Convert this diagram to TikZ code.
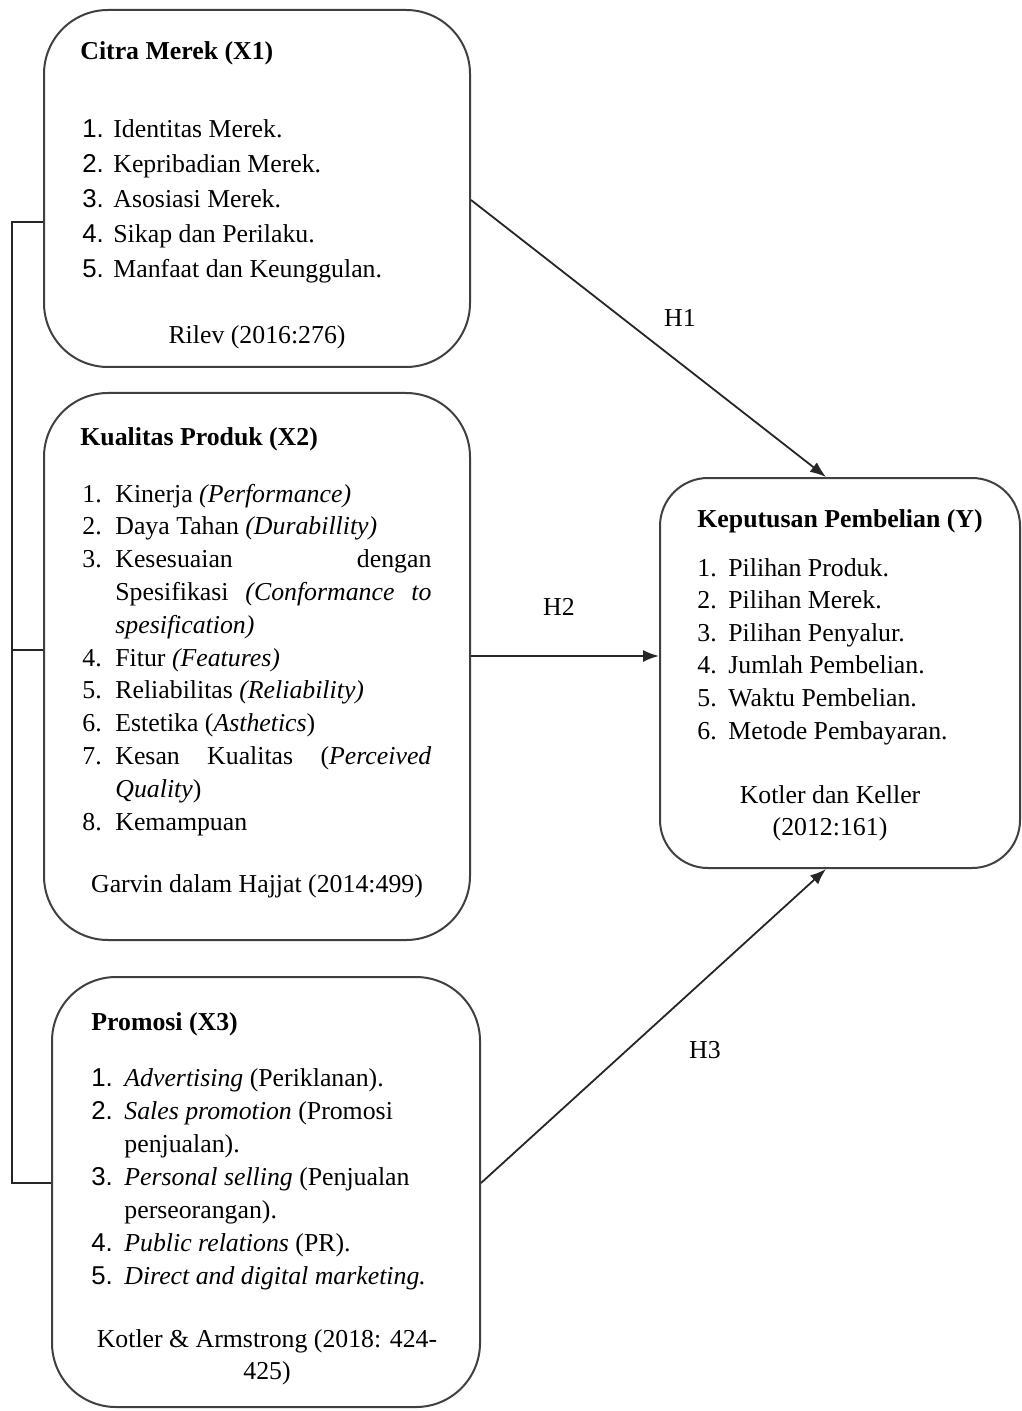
\documentclass[tikz,border=0pt]{standalone}
\usepackage{fontspec}
\setmainfont{Liberation Serif}
\newfontfamily\numfont{Liberation Sans}
\usetikzlibrary{positioning, arrows.meta}

\tikzset{
  box/.style={draw=black!75, line width=1pt, rounded corners=32pt, inner sep=0pt},
  txt/.style={inner sep=0pt, anchor=base west, font=\fontsize{12.9}{16.5}\selectfont},
  lbl/.style={inner sep=0pt, font=\fontsize{12.9}{16}\selectfont},
  link/.style={draw=black!85, line width=0.9pt},
}
\newcommand{\nb}[1]{\makebox[16.5pt][l]{#1}}
\newcommand{\ns}[1]{\makebox[15.5pt][l]{\numfont #1}}

\begin{document}
\begin{tikzpicture}[x=0.5pt, y=-0.5pt, >={Latex[length=8pt, width=6pt]}]
		
		\useasboundingbox (0,0) rectangle (1021,1411);
		
		% boxes
		\node[box, minimum width=213pt, minimum height=178.5pt] (x1) at (257,188.5) {};
		\node[box, minimum width=213pt, minimum height=273.5pt] (x2) at (257,666.5) {};
		\node[box, minimum width=214pt, minimum height=215pt] (x3) at (266,1192) {};
		\node[box, minimum width=180pt, minimum height=195pt, rounded corners=24pt] (y) at (840,673) {};
		
		% citra merek
		\node[txt] (x1head) at (80,60) {\textbf{Citra Merek (X1)}};
		\node[txt, font=\fontsize{12.9}{17.5}\selectfont] (x1list) at (82,138) {\begin{tabular}[t]{@{}l@{}}
		\ns{1.}Identitas Merek.\\
		\ns{2.}Kepribadian Merek.\\
		\ns{3.}Asosiasi Merek.\\
		\ns{4.}Sikap dan Perilaku.\\
		\ns{5.}Manfaat dan Keunggulan.
		\end{tabular}};
		\node[lbl] (x1src) at (257,337) {Rilev (2016:276)};
		
		% kualitas produk
		\node[txt] (x2head) at (80,445) {\textbf{Kualitas Produk (X2)}};
		\node[txt, font=\fontsize{12.9}{16.4}\selectfont] (x2list) at (82,502) {\begin{tabular}[t]{@{}l@{}}
		\nb{1.}Kinerja \textit{(Performance)}\\
		\nb{2.}Daya Tahan \textit{(Durabillity)}\\
		\nb{3.}\makebox[158pt][s]{Kesesuaian dengan}\\
		\nb{}\makebox[158pt][s]{Spesifikasi \textit{(Conformance to}}\\
		\nb{}\textit{spesification)}\\
		\nb{4.}Fitur \textit{(Features)}\\
		\nb{5.}Reliabilitas \textit{(Reliability)}\\
		\nb{6.}Estetika (\textit{Asthetics})\\
		\nb{7.}\makebox[158pt][s]{Kesan Kualitas (\textit{Perceived}}\\
		\nb{}\textit{Quality})\\
		\nb{8.}Kemampuan
		\end{tabular}};
		\node[lbl] (x2src) at (257,886) {Garvin dalam Hajjat (2014:499)};
		
		% promosi
		\node[txt] (x3head) at (91,1030) {\textbf{Promosi (X3)}};
		\node[txt, font=\fontsize{12.9}{16.5}\selectfont] (x3list) at (91,1086) {\begin{tabular}[t]{@{}l@{}}
		\makebox[16.5pt][l]{\numfont 1.}\textit{Advertising} (Periklanan).\\
		\makebox[16.5pt][l]{\numfont 2.}\textit{Sales promotion} (Promosi\\
		\makebox[16.5pt][l]{}penjualan).\\
		\makebox[16.5pt][l]{\numfont 3.}\textit{Personal selling} (Penjualan\\
		\makebox[16.5pt][l]{}perseorangan).\\
		\makebox[16.5pt][l]{\numfont 4.}\textit{Public relations} (PR).\\
		\makebox[16.5pt][l]{\numfont 5.}\textit{Direct and digital marketing.}
		\end{tabular}};
		\node[lbl, align=center] (x3src) at (267,1357) {Kotler \& Armstrong (2018: 424-\\425)};
		
		% keputusan pembelian
		\node[txt] (yhead) at (697,527) {\textbf{Keputusan Pembelian (Y)}};
		\node[txt, font=\fontsize{12.9}{16.3}\selectfont] (ylist) at (697,576) {\begin{tabular}[t]{@{}l@{}}
		\makebox[15.5pt][l]{1.}Pilihan Produk.\\
		\makebox[15.5pt][l]{2.}Pilihan Merek.\\
		\makebox[15.5pt][l]{3.}Pilihan Penyalur.\\
		\makebox[15.5pt][l]{4.}Jumlah Pembelian.\\
		\makebox[15.5pt][l]{5.}Waktu Pembelian.\\
		\makebox[15.5pt][l]{6.}Metode Pembayaran.
		\end{tabular}};
		\node[lbl, align=center] (ysrc) at (830,813) {Kotler dan Keller\\(2012:161)};
		
		% hypotheses
		\node[lbl] (h1) at (680,318) {H1};
		\node[lbl] (h2) at (559,607) {H2};
		\node[lbl] (h3) at (705,1050) {H3};
		
		\coordinate (bus1) at (12,222);
		\coordinate (bus2) at (12,650);
		\coordinate (bus3) at (12,1183);
		\coordinate (row2) at (0,656);
		
		\draw[link] (x1.west |- bus1) -- (bus1) -- (bus3) -- (x3.west |- bus3);
		\draw[link] (bus2) -- (x2.west |- bus2);
		\draw[link, ->] ([yshift=-5.75pt]x1.east) -- ([xshift=-7pt]y.north);
		\draw[link, ->] (x2.east |- row2) -- (y.west |- row2);
		\draw[link, ->] (x3.east |- bus3) -- ([xshift=-7pt]y.south);
		
		\end{tikzpicture}
\end{document}
